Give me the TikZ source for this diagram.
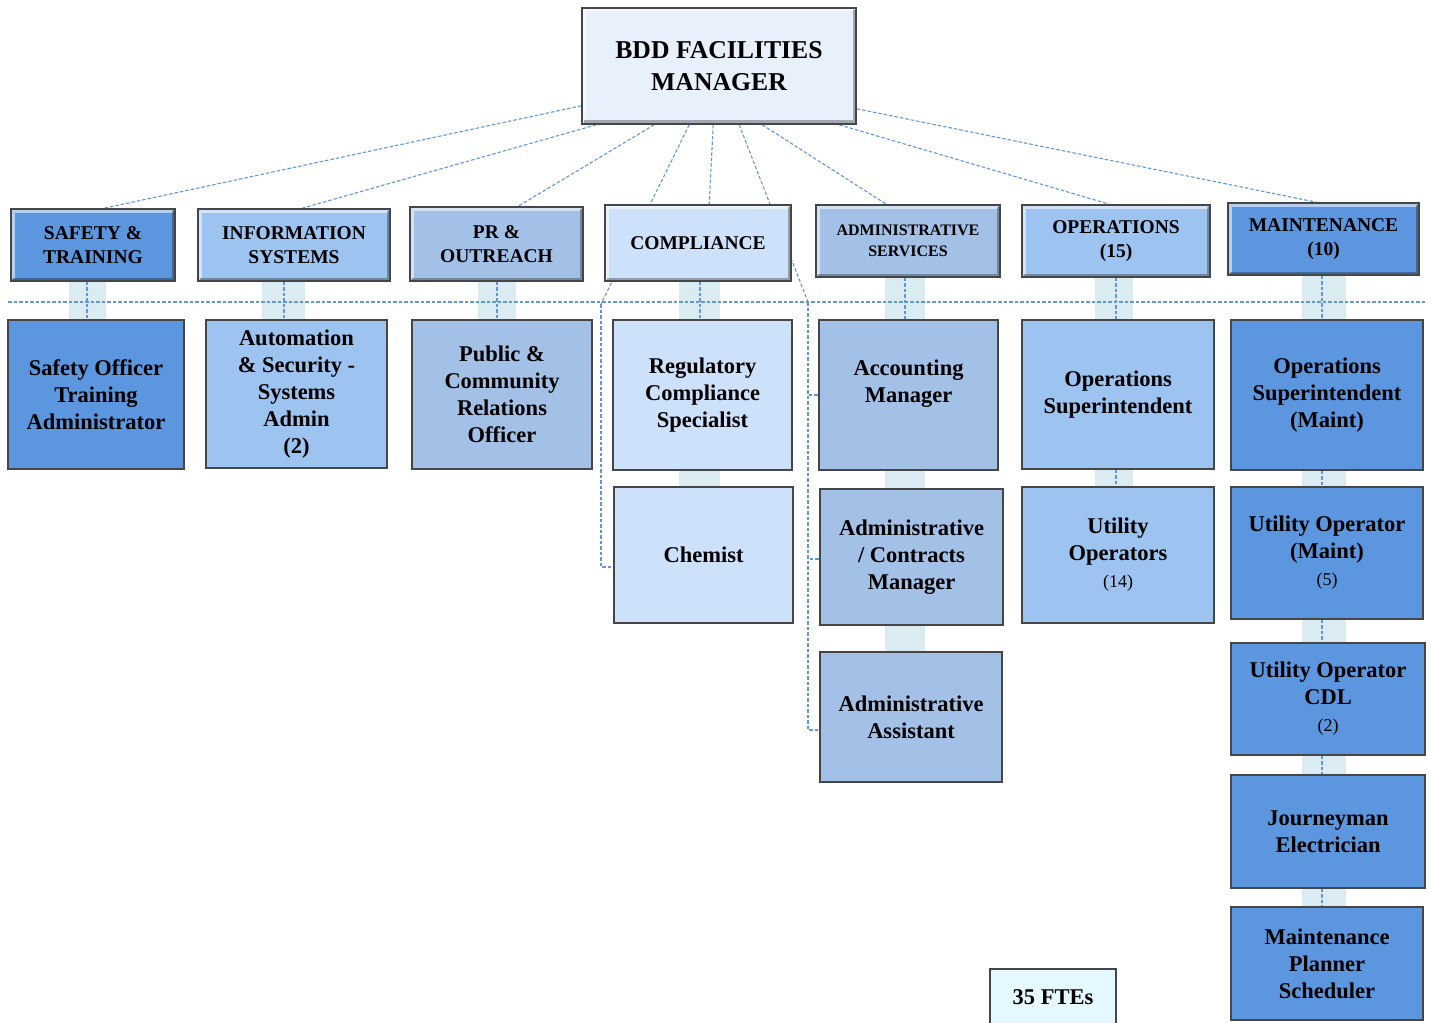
\documentclass[tikz,border=0pt]{standalone}
\usepackage{fontspec}
\setmainfont{Liberation Serif}
\usetikzlibrary{calc,backgrounds}
\definecolor{cDark}{RGB}{91,150,222}
\definecolor{cLight}{RGB}{157,195,240}
\definecolor{cGrey}{RGB}{163,192,230}
\definecolor{cPale}{RGB}{205,225,250}
\definecolor{cTop}{RGB}{232,240,252}
\definecolor{cFte}{RGB}{230,248,255}
\definecolor{cBand}{RGB}{218,236,242}
\definecolor{cDash}{RGB}{100,150,210}
\definecolor{cBorder}{RGB}{70,70,70}
\tikzset{
  box/.style={draw=cBorder, line width=1.6pt, inner sep=0pt, align=center, text=black},
  bevel/.style={box, path picture={
      \draw[white,opacity=0.55,line width=3pt]
        ([xshift=2pt,yshift=2.5pt]path picture bounding box.south west) |-
        ([xshift=-2.5pt,yshift=-2pt]path picture bounding box.north east);
      \draw[black,opacity=0.3,line width=3pt]
        ([xshift=2pt,yshift=2pt]path picture bounding box.south west) -|
        ([xshift=-2pt,yshift=-2pt]path picture bounding box.north east);}},
  hdr/.style={bevel, font=\fontsize{19.5}{24}\selectfont\bfseries},
  sub/.style={box, font=\fontsize{22.5}{27}\selectfont\bfseries},
  conn/.style={draw=cDash, line width=1.1pt, dash pattern=on 3.5pt off 2pt},
  band/.style={fill=cBand, draw=none},
}
\newcommand{\cnt}[1]{{\fontsize{18}{25}\selectfont\mdseries #1}}
\begin{document}
\begin{tikzpicture}[x={(1pt,0)}, y={(0,-1pt)}]
\useasboundingbox (0,0) rectangle (1431,1022);
% manager
\node[bevel, fill=cTop, minimum width=274pt, minimum height=116pt,
      font=\fontsize{25.7}{32}\selectfont\bfseries] (mgr) at (719,66) {BDD FACILITIES\\MANAGER};
% headers
\node[hdr, fill=cDark,  minimum width=164pt, minimum height=72pt] (safety)  at (93,245)    {SAFETY \&\\TRAINING};
\node[hdr, fill=cLight, minimum width=192pt, minimum height=72pt] (infosys) at (294,245)   {INFORMATION\\SYSTEMS};
\node[hdr, fill=cGrey,  minimum width=173pt, minimum height=74pt] (pr)      at (496.5,244) {PR \&\\OUTREACH};
\node[hdr, fill=cPale,  minimum width=186pt, minimum height=76pt] (comp)    at (698,243)   {COMPLIANCE};
\node[hdr, fill=cGrey,  minimum width=184pt, minimum height=72pt,
      font=\fontsize{16}{21}\selectfont\bfseries] (admin) at (908,241) {ADMINISTRATIVE\\SERVICES};
\node[hdr, fill=cLight, minimum width=188pt, minimum height=72pt] (ops)     at (1116,241)  {OPERATIONS\\(15)};
\node[hdr, fill=cDark,  minimum width=191pt, minimum height=72pt] (maint)   at (1323.5,239) {MAINTENANCE\\(10)};
% sub boxes
\node[sub, fill=cDark,  minimum width=176pt, minimum height=149pt] (safo)   at (96,394.5)   {Safety Officer\\Training\\Administrator};
\node[sub, fill=cLight, minimum width=181pt, minimum height=148pt] (auto)   at (296.5,394)  {Automation\\\& Security -\\Systems\\Admin\\(2)};
\node[sub, fill=cGrey,  minimum width=180pt, minimum height=149pt] (pub)    at (502,394.5)  {Public \&\\Community\\Relations\\Officer};
\node[sub, fill=cPale,  minimum width=179pt, minimum height=150pt] (reg)    at (702.5,395)  {Regulatory\\Compliance\\Specialist};
\node[sub, fill=cPale,  minimum width=179pt, minimum height=136pt] (chem)   at (703.5,555)  {Chemist};
\node[sub, fill=cGrey,  minimum width=179pt, minimum height=150pt] (acct)   at (908.5,395)  {Accounting\\Manager\\\mbox{}};
\node[sub, fill=cGrey,  minimum width=183pt, minimum height=136pt] (adcon)  at (911.5,557)  {Administrative\\/ Contracts\\Manager};
\node[sub, fill=cGrey,  minimum width=182pt, minimum height=130pt] (adasst) at (911,717)    {Administrative\\Assistant};
\node[sub, fill=cLight, minimum width=192pt, minimum height=149pt] (opsup)  at (1118,394.5) {Operations\\Superintendent};
\node[sub, fill=cLight, minimum width=192pt, minimum height=136pt] (utilop) at (1118,555)   {Utility\\Operators\\\cnt{(14)}};
\node[sub, fill=cDark,  minimum width=192pt, minimum height=150pt] (msup)   at (1327,395)   {Operations\\Superintendent\\(Maint)};
\node[sub, fill=cDark,  minimum width=192pt, minimum height=132pt] (umaint) at (1327,553)   {Utility Operator\\(Maint)\\\cnt{(5)}};
\node[sub, fill=cDark,  minimum width=194pt, minimum height=112pt] (ucdl)   at (1328,699)   {Utility Operator\\CDL\\\cnt{(2)}};
\node[sub, fill=cDark,  minimum width=194pt, minimum height=113pt] (jour)   at (1328,831.5) {Journeyman\\Electrician};
\node[sub, fill=cDark,  minimum width=192pt, minimum height=113pt] (mps)    at (1327,963.5) {Maintenance\\Planner\\Scheduler};
\node[sub, fill=cFte, line width=1.2pt, minimum width=126pt, minimum height=56pt] (fte) at (1053,997) {35 FTEs};
% helper coordinates
\coordinate (hl) at (8,302);
\coordinate (hr) at (1425,302);
\coordinate (cl) at (601,304);
\coordinate (cr) at (808,302);
\coordinate (x1) at (87,0);
\coordinate (x2) at (284,0);
\coordinate (x3) at (497,0);
\coordinate (x4) at (700,0);
\coordinate (x5) at (905,0);
\coordinate (x6) at (1116,0);
\coordinate (x7) at (1322,0);
\begin{scope}[on background layer]
  % bands
  \fill[band] (69,281) rectangle (106,320);
  \fill[band] (262,281) rectangle (305,320);
  \fill[band] (478,281) rectangle (516,320);
  \fill[band] (679,281) rectangle (720,320);
  \fill[band] (679,470) rectangle (720,487);
  \fill[band] (885,277) rectangle (925,320);
  \fill[band] (885,470) rectangle (925,489);
  \fill[band] (885,625) rectangle (925,652);
  \fill[band] (1095,277) rectangle (1133,320);
  \fill[band] (1095,469) rectangle (1133,487);
  \fill[band] (1302,275) rectangle (1346,320);
  \fill[band] (1302,470) rectangle (1346,487);
  \fill[band] (1302,619) rectangle (1346,643);
  \fill[band] (1302,755) rectangle (1346,775);
  \fill[band] (1302,888) rectangle (1346,907);
  % manager to headers
  \draw[conn] ($(mgr.south west)+(0,-19)$) -- ($(safety.north west)+(94,0)$);
  \draw[conn] ($(mgr.south west)+(15,0)$) -- ($(infosys.north west)+(105,0)$);
  \draw[conn] ($(mgr.south west)+(73,0)$) -- ($(pr.north west)+(109,0)$);
  \draw[conn] ($(mgr.south west)+(108,0)$) -- (cl);
  \draw[conn] ($(mgr.south west)+(132,0)$) -- ($(comp.north west)+(105,0)$);
  \draw[conn] ($(mgr.south west)+(158,0)$) -- (cr);
  \draw[conn] ($(mgr.south west)+(181,0)$) -- ($(admin.north west)+(71,0)$);
  \draw[conn] ($(mgr.south west)+(258,0)$) -- ($(ops.north west)+(88,0)$);
  \draw[conn] ($(mgr.south east)+(0,-16)$) -- ($(maint.north west)+(89,0)$);
  % horizontal dashed rule
  \draw[conn] (hl) -- (hr);
  % compliance side lines
  \draw[conn] (cl) |- ([yshift=-12pt]chem.west);
  \draw[conn] (cr) |- (acct.west);
  \draw[conn] (cr) |- ([yshift=-2pt]adcon.west);
  \draw[conn] (cr) |- ([yshift=-13pt]adasst.west);
  % header to sub
  \draw[conn] (safety.south -| x1) -- (safo.north -| x1);
  \draw[conn] (infosys.south -| x2) -- (auto.north -| x2);
  \draw[conn] (pr.south -| x3) -- (pub.north -| x3);
  \draw[conn] (comp.south -| x4) -- (reg.north -| x4);
  \draw[conn] (admin.south -| x5) -- (acct.north -| x5);
  \draw[conn] (ops.south -| x6) -- (opsup.north -| x6);
  \draw[conn] (opsup.south -| x6) -- (utilop.north -| x6);
  \draw[conn] (maint.south -| x7) -- (msup.north -| x7);
  \draw[conn] (msup.south -| x7) -- (umaint.north -| x7);
  \draw[conn] (umaint.south -| x7) -- (ucdl.north -| x7);
  \draw[conn] (ucdl.south -| x7) -- (jour.north -| x7);
  \draw[conn] (jour.south -| x7) -- (mps.north -| x7);
\end{scope}
\end{tikzpicture}
\end{document}
